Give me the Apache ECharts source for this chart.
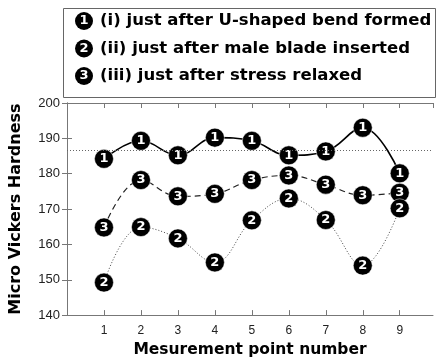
<!DOCTYPE html>
<html><head><meta charset="utf-8">
<script src="https://cdn.jsdelivr.net/npm/echarts@6/dist/echarts.min.js"></script>
<style>html,body{margin:0;padding:0;background:#fff}#c{width:438px;height:363px}</style>
</head><body><div id="c"></div>
<script>
const points = [1,2,3,4,5,6,7,8,9];
const xTickLabels = ['1','2','3','4','5','6','7','8','9'];
const yTickLabels = [140,150,160,170,180,190,200];
const s1Name = '(i) just after U-shaped bend formed';
const s2Name = '(ii) just after male blade inserted';
const s3Name = '(iii) just after stress relaxed';
const s1 = [184.2, 189.3, 185.2, 190.2, 189.3, 185.2, 186.3, 193.0, 180.1];
const s2 = [149.2, 164.9, 161.7, 154.9, 166.8, 173.0, 166.9, 154.0, 170.2];
const s3 = [164.8, 178.2, 173.6, 174.3, 178.2, 179.5, 176.9, 173.9, 174.6];
const refLine = 186.5;

const chart = echarts.init(document.getElementById('c'));
const FONT = 'DejaVu Sans';
function mk(name, vals, digit, lineType, lineColor, lw, z){
  return {
    name, type:'line', smooth:0.4, z,
    data: points.map((p,i)=>[p, vals[i]]),
    symbol:'circle', symbolSize:19,
    itemStyle:{color:'#000', borderColor:'#fff', borderWidth:0.5},
    lineStyle:{color:lineColor, width:lw, type:lineType},
    label:{show:true, position:'inside', formatter:digit, color:'#fff', fontWeight:'bold', fontSize:13, fontFamily:FONT},
    emphasis:{disabled:true}
  };
}
const axisColor = '#777';
const legendItems = [['1', s1Name],['2', s2Name],['3', s3Name]];
const graphic = [{type:'rect', left:63, top:8, shape:{width:372, height:89}, style:{fill:'#fff', stroke:'#666', lineWidth:1}, z:10}];
legendItems.forEach((it,i)=>{
  const cy = 21 + i*27.5;
  graphic.push({type:'circle', shape:{cx:84, cy, r:9}, style:{fill:'#000'}, z:11});
  graphic.push({type:'text', x:84, y:cy, style:{text:it[0], fill:'#fff', font:'bold 13px '+FONT, align:'center', verticalAlign:'middle'}, z:12});
  graphic.push({type:'text', x:100, y:cy, style:{text:it[1], fill:'#000', font:'bold 16.5px '+FONT, align:'left', verticalAlign:'middle'}, z:12});
});
chart.setOption({
  animation:false,
  grid:{left:60, right:5, top:103, bottom:42},
  graphic,
  xAxis:[{type:'value', min:0, max:9.9, interval:1, position:'bottom',
    axisLine:{show:true, lineStyle:{color:axisColor}},
    axisTick:{show:true, inside:true, length:5, lineStyle:{color:axisColor}},
    axisLabel:{color:'#222', fontSize:12, fontFamily:'Liberation Sans', margin:10, showMaxLabel:false, formatter:v=> (v>=1&&v<=9)? xTickLabels[v-1] : ''},
    splitLine:{show:false},
    name:'Mesurement point number', nameLocation:'middle', nameGap:26,
    nameTextStyle:{fontWeight:'bold', fontSize:15.5, color:'#000', fontFamily:FONT}},
   {type:'value', min:0, max:9.9, interval:1, position:'top',
    axisLine:{show:true, lineStyle:{color:axisColor}},
    axisTick:{show:true, inside:true, length:5, lineStyle:{color:axisColor}},
    axisLabel:{show:false}, splitLine:{show:false}}],
  yAxis:[{type:'value', min:140, max:200, interval:10, position:'left',
    axisLine:{show:true, lineStyle:{color:axisColor}},
    axisTick:{show:true, inside:true, length:5, lineStyle:{color:axisColor}},
    axisLabel:{color:'#222', fontSize:13, fontFamily:'Liberation Sans', margin:7, formatter:v=>yTickLabels.includes(v)? String(v):''},
    splitLine:{show:false},
    name:'Micro Vickers Hardness', nameLocation:'middle', nameGap:43,
    nameTextStyle:{fontWeight:'bold', fontSize:16, color:'#000', fontFamily:FONT}},
   {type:'value', min:140, max:200, interval:10, position:'right',
    axisLine:{show:true, lineStyle:{color:axisColor}},
    axisTick:{show:true, inside:true, length:5, lineStyle:{color:axisColor}},
    axisLabel:{show:false}, splitLine:{show:false}}],
  series:[
    Object.assign(mk(s1Name, s1, '1', 'solid', '#000', 1.6, 4), {
      markLine:{silent:true, symbol:'none', label:{show:false},
        lineStyle:{type:[1,2], color:'#666', width:1},
        data:[{yAxis:refLine}]}
    }),
    mk(s3Name, s3, '3', [6,4], '#222', 1.2, 5),
    mk(s2Name, s2, '2', [1,2], '#444', 1, 6)
  ]
});
</script></body></html>
